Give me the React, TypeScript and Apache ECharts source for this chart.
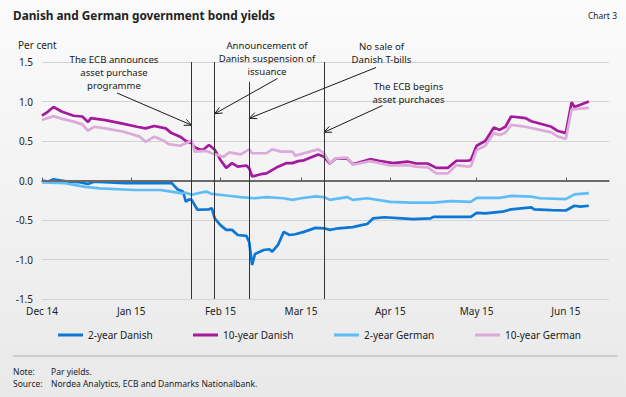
import React, { useEffect, useRef } from 'react';
import * as echarts from 'echarts';

const ORIGIN = '2014-12-01';
const AXIS_END = '2015-06-16';
const tickDates = ['2014-12-01', '2015-01-01', '2015-02-01', '2015-03-01', '2015-04-01', '2015-05-01', '2015-06-01'];
const tickLabels = ['Dec 14', 'Jan 15', 'Feb 15', 'Mar 15', 'Apr 15', 'May 15', 'Jun 15'];

const seriesNames = ['2-year Danish', '10-year Danish', '2-year German', '10-year German'];
const seriesColors = ['#0a78d4', '#a5199c', '#5ebdf7', '#dcaad9'];

const dk2Dates = ['2014-12-01','2014-12-03','2014-12-05','2014-12-10','2014-12-14','2014-12-17','2014-12-19','2014-12-30','2015-01-14','2015-01-15','2015-01-17','2015-01-19','2015-01-20','2015-01-21','2015-01-22','2015-01-24','2015-01-28','2015-01-29','2015-01-30','2015-02-01','2015-02-03','2015-02-05','2015-02-07','2015-02-10','2015-02-11','2015-02-12','2015-02-13','2015-02-16','2015-02-18','2015-02-19','2015-02-21','2015-02-23','2015-02-25','2015-02-27','2015-03-02','2015-03-06','2015-03-09','2015-03-11','2015-03-14','2015-03-19','2015-03-22','2015-03-24','2015-03-26','2015-03-30','2015-04-05','2015-04-09','2015-04-15','2015-04-16','2015-04-29','2015-05-01','2015-05-04','2015-05-10','2015-05-13','2015-05-20','2015-05-21','2015-05-27','2015-06-01','2015-06-04','2015-06-06','2015-06-09'];
const dk2Values = [0.0,-0.015,0.015,-0.015,-0.02,-0.045,-0.015,-0.035,-0.035,-0.03,-0.11,-0.14,-0.27,-0.24,-0.245,-0.37,-0.365,-0.35,-0.48,-0.565,-0.625,-0.625,-0.69,-0.70,-0.78,-1.07,-0.93,-0.88,-0.87,-0.90,-0.815,-0.65,-0.69,-0.68,-0.65,-0.60,-0.605,-0.625,-0.605,-0.59,-0.565,-0.55,-0.48,-0.465,-0.48,-0.49,-0.48,-0.46,-0.46,-0.41,-0.415,-0.395,-0.365,-0.34,-0.365,-0.375,-0.38,-0.32,-0.33,-0.32];

const dk10Dates = ['2014-12-01','2014-12-03','2014-12-05','2014-12-08','2014-12-12','2014-12-15','2014-12-17','2014-12-18','2014-12-23','2014-12-29','2015-01-03','2015-01-06','2015-01-09','2015-01-13','2015-01-15','2015-01-18','2015-01-20','2015-01-22','2015-01-23','2015-01-25','2015-01-26','2015-01-28','2015-01-29','2015-01-30','2015-02-01','2015-02-03','2015-02-05','2015-02-07','2015-02-10','2015-02-11','2015-02-12','2015-02-15','2015-02-17','2015-02-21','2015-02-24','2015-02-26','2015-02-28','2015-03-02','2015-03-05','2015-03-07','2015-03-09','2015-03-11','2015-03-13','2015-03-17','2015-03-19','2015-03-25','2015-03-28','2015-04-02','2015-04-07','2015-04-10','2015-04-14','2015-04-17','2015-04-21','2015-04-24','2015-04-28','2015-04-29','2015-05-01','2015-05-04','2015-05-07','2015-05-09','2015-05-11','2015-05-13','2015-05-18','2015-05-20','2015-05-27','2015-05-29','2015-06-01','2015-06-03','2015-06-04','2015-06-09'];
const dk10Values = [0.82,0.87,0.93,0.87,0.82,0.81,0.74,0.79,0.765,0.72,0.68,0.66,0.69,0.66,0.60,0.555,0.50,0.47,0.42,0.39,0.39,0.45,0.42,0.39,0.26,0.16,0.22,0.175,0.19,0.155,0.05,0.08,0.09,0.175,0.22,0.22,0.245,0.255,0.30,0.33,0.30,0.215,0.275,0.28,0.205,0.27,0.25,0.22,0.24,0.215,0.215,0.16,0.16,0.25,0.25,0.26,0.44,0.50,0.67,0.64,0.68,0.81,0.79,0.75,0.68,0.63,0.60,0.99,0.93,1.0];

const de2Dates = ['2014-12-01','2014-12-09','2014-12-16','2014-12-21','2015-01-02','2015-01-11','2015-01-15','2015-01-18','2015-01-20','2015-01-22','2015-01-25','2015-01-27','2015-01-29','2015-02-03','2015-02-08','2015-02-13','2015-02-17','2015-02-23','2015-02-26','2015-03-01','2015-03-06','2015-03-09','2015-03-11','2015-03-17','2015-03-19','2015-03-24','2015-04-01','2015-04-08','2015-04-16','2015-04-22','2015-04-29','2015-05-01','2015-05-09','2015-05-13','2015-05-20','2015-05-23','2015-06-01','2015-06-04','2015-06-09'];
const de2Values = [-0.025,-0.035,-0.08,-0.10,-0.12,-0.12,-0.14,-0.16,-0.155,-0.18,-0.155,-0.14,-0.17,-0.19,-0.21,-0.225,-0.21,-0.225,-0.245,-0.225,-0.20,-0.21,-0.245,-0.21,-0.245,-0.225,-0.27,-0.28,-0.28,-0.26,-0.27,-0.22,-0.22,-0.195,-0.205,-0.225,-0.235,-0.175,-0.16];

const de10Dates = ['2014-12-01','2014-12-05','2014-12-08','2014-12-12','2014-12-15','2014-12-17','2014-12-19','2014-12-23','2014-12-29','2015-01-04','2015-01-06','2015-01-09','2015-01-12','2015-01-14','2015-01-18','2015-01-20','2015-01-22','2015-01-23','2015-01-27','2015-01-29','2015-02-02','2015-02-04','2015-02-08','2015-02-11','2015-02-12','2015-02-17','2015-02-19','2015-02-22','2015-02-26','2015-02-27','2015-03-02','2015-03-06','2015-03-07','2015-03-09','2015-03-11','2015-03-13','2015-03-17','2015-03-19','2015-03-25','2015-04-01','2015-04-07','2015-04-10','2015-04-14','2015-04-17','2015-04-21','2015-04-24','2015-04-28','2015-04-29','2015-05-01','2015-05-04','2015-05-07','2015-05-09','2015-05-11','2015-05-13','2015-05-18','2015-05-27','2015-05-29','2015-06-01','2015-06-03','2015-06-09'];
const de10Values = [0.765,0.815,0.78,0.745,0.71,0.63,0.68,0.66,0.62,0.555,0.49,0.555,0.51,0.46,0.44,0.47,0.51,0.365,0.375,0.345,0.30,0.355,0.33,0.395,0.345,0.345,0.395,0.365,0.365,0.315,0.345,0.385,0.395,0.345,0.22,0.28,0.29,0.20,0.245,0.19,0.195,0.175,0.165,0.09,0.09,0.195,0.175,0.18,0.385,0.44,0.60,0.575,0.605,0.705,0.68,0.61,0.56,0.525,0.90,0.92];

const eventDates = ['2015-01-22', '2015-01-30', '2015-02-11', '2015-03-09'];
const eventLineTops = [1.5, 1.5, 1.25, 1.5];
const eventTexts = [
  ['The ECB announces', 'asset purchase', 'programme'],
  ['Announcement of', 'Danish suspension of', 'issuance'],
  ['No sale of', 'Danish T-bills'],
  ['The ECB begins', 'asset purchaces'],
];
const eventTextPos = [[114, 59.6], [267, 45.3], [381.5, 46], [408.5, 86.4]];
const arrowTails = [[117, 93], [277.5, 78.5], [376, 67.5], [382.5, 105.5]];
const arrowTipValues = [0.70, 0.845, 0.787, 0.61];

const FONT = '"Noto Sans", "DejaVu Sans", sans-serif';
const LINE_H = 13.1;
const day = (s: string) => (Date.parse(s) - Date.parse(ORIGIN)) / 86400000;
const tickDays = tickDates.map(day);

function arrow(x1: number, y1: number, x2: number, y2: number) {
  const ang = Math.atan2(y1 - y2, x1 - x2);
  const L = 8, a = 0.42;
  const p1 = [x2 + L * Math.cos(ang + a), y2 + L * Math.sin(ang + a)];
  const p2 = [x2 + L * Math.cos(ang - a), y2 + L * Math.sin(ang - a)];
  return {
    type: 'group',
    silent: true,
    children: [
      { type: 'line', shape: { x1, y1, x2, y2 }, style: { stroke: '#1a1a1a', lineWidth: 1 } },
      { type: 'polyline', shape: { points: [p1, [x2, y2], p2] }, style: { stroke: '#1a1a1a', lineWidth: 1, fill: null } },
    ],
  };
}

export default function App() {
  const ref = useRef<HTMLDivElement>(null);
  useEffect(() => {
    if (!ref.current) return;
    const chart = echarts.init(ref.current, null, { renderer: 'svg' });
    const seriesData = [
      [dk2Dates, dk2Values],
      [dk10Dates, dk10Values],
      [de2Dates, de2Values],
      [de10Dates, de10Values],
    ];
    const legendLefts = [53, 188, 329, 470];
    const option: any = {
      animation: false,
      backgroundColor: 'transparent',
      grid: { left: 42, right: 17, top: 62, bottom: 98, containLabel: false },
      xAxis: {
        type: 'value',
        min: 0,
        max: day(AXIS_END),
        axisLine: { show: true, lineStyle: { color: '#5a5a5a', width: 1.5 } },
        axisTick: { show: true, inside: true, length: 3, customValues: tickDays, lineStyle: { color: '#5a5a5a', width: 1 } },
        axisLabel: {
          customValues: tickDays,
          formatter: (v: number) => tickLabels[tickDays.indexOf(v)] ?? '',
          fontSize: 10, color: '#222', fontFamily: FONT, margin: 7,
        },
        splitLine: { show: false },
      },
      yAxis: {
        type: 'value',
        min: -1.5, max: 1.5, interval: 0.5,
        axisLine: { show: false },
        axisTick: { show: false },
        axisLabel: { formatter: (v: number) => v.toFixed(1), fontSize: 10, color: '#222', fontFamily: FONT, margin: 9 },
        splitLine: { lineStyle: { color: '#d3d3d3', width: 1 } },
      },
      legend: seriesNames.map((n, i) => ({
        data: [n], left: legendLefts[i], top: 325, icon: 'rect', itemWidth: 25, itemHeight: 3,
        textStyle: { fontSize: 10, color: '#222', fontFamily: FONT }, selectedMode: false,
      })),
      series: [
        {
          name: 'refs', type: 'line', data: [], z: 1, silent: true,
          markLine: {
            silent: true, symbol: 'none', label: { show: false },
            data: [
              { yAxis: 0, lineStyle: { color: '#6a6a6a', width: 2, type: 'solid' } },
              ...eventDates.map((d, i) => [
                { coord: [day(d), eventLineTops[i]], lineStyle: { color: '#333', width: 1, type: 'solid' } },
                { coord: [day(d), -1.5] },
              ]),
            ],
          },
        },
        ...seriesNames.map((n, i) => ({
          name: n, type: 'line', z: 3, showSymbol: false, symbol: 'none',
          color: seriesColors[i],
          lineStyle: { width: 2.7, color: seriesColors[i] },
          data: (seriesData[i][0] as string[]).map((d, j) => [day(d), (seriesData[i][1] as number[])[j]]),
        })),
      ],
    };
    chart.setOption(option);

    const arrows = arrowTails.map((t, i) => {
      const p = chart.convertToPixel({ gridIndex: 0 }, [day(eventDates[i]), arrowTipValues[i]]) as number[];
      return arrow(t[0], t[1], p[0], p[1]);
    });
    const texts: any[] = [];
    eventTexts.forEach((lines, i) => {
      lines.forEach((line, k) => {
        texts.push({
          type: 'text', x: eventTextPos[i][0], y: eventTextPos[i][1] + k * LINE_H, silent: true,
          style: { text: line, fill: '#1a1a1a', font: `9.6px ${FONT}`, align: 'center', verticalAlign: 'middle' },
        });
      });
    });
    chart.setOption({
      graphic: [
        { type: 'text', left: 13, top: 9, style: { text: 'Danish and German government bond yields', fill: '#222', font: `bold 11.8px ${FONT}` } },
        { type: 'text', right: 9, top: 11, style: { text: 'Chart 3', fill: '#222', font: `8.5px ${FONT}` } },
        { type: 'text', left: 18, top: 40, style: { text: 'Per cent', fill: '#222', font: `10px ${FONT}` } },
        ...texts,
        ...arrows,
        { type: 'line', shape: { x1: 13, y1: 356, x2: 618, y2: 356 }, style: { stroke: '#c4c4c4', lineWidth: 1.5 } },
        { type: 'text', left: 13, top: 367, style: { text: 'Note:', fill: '#222', font: `8.5px ${FONT}` } },
        { type: 'text', left: 51, top: 367, style: { text: 'Par yields.', fill: '#222', font: `8.5px ${FONT}` } },
        { type: 'text', left: 13, top: 378.5, style: { text: 'Source:', fill: '#222', font: `8.5px ${FONT}` } },
        { type: 'text', left: 51, top: 378.5, style: { text: 'Nordea Analytics, ECB and Danmarks Nationalbank.', fill: '#222', font: `8.5px ${FONT}` } },
      ],
    });
    return () => chart.dispose();
  }, []);
  return (
    <div style={{ position: 'absolute', left: 0, top: 0, width: 626, height: 397, background: 'linear-gradient(#fbfbfb, #e9e9e9)' }}>
      <div ref={ref} style={{ width: 626, height: 397 }} />
    </div>
  );
}
